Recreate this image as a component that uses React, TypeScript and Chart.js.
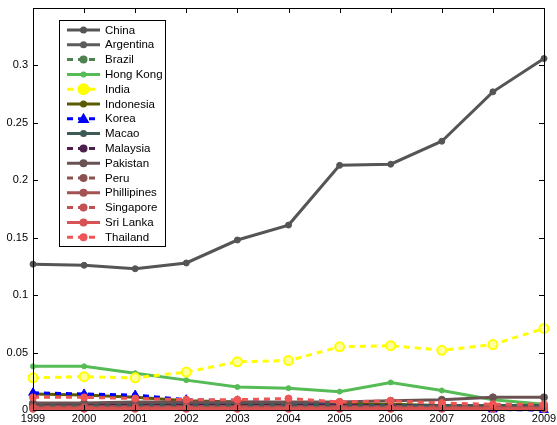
import React, { useEffect, useRef } from "react";
import { Chart, registerables } from "chart.js";

Chart.register(...registerables);

const years = [1999, 2000, 2001, 2002, 2003, 2004, 2005, 2006, 2007, 2008, 2009];
const yTicks = [0, 0.05, 0.1, 0.15, 0.2, 0.25, 0.3];

const china = [0.127, 0.126, 0.123, 0.128, 0.148, 0.161, 0.213, 0.214, 0.234, 0.277, 0.306];
const argentina = [0.004, 0.004, 0.004, 0.004, 0.004, 0.004, 0.004, 0.004, 0.004, 0.004, 0.004];
const brazil = [0.005, 0.005, 0.005, 0.005, 0.005, 0.005, 0.004, 0.004, 0.004, 0.004, 0.004];
const hongKong = [0.038, 0.038, 0.032, 0.026, 0.020, 0.019, 0.016, 0.024, 0.017, 0.009, 0.005];
const india = [0.028, 0.029, 0.028, 0.033, 0.042, 0.043, 0.055, 0.056, 0.052, 0.057, 0.071];
const indonesia = [0.014, 0.013, 0.011, 0.008, 0.007, 0.006, 0.005, 0.005, 0.004, 0.003, 0.003];
const korea = [0.015, 0.014, 0.013, 0.009, 0.008, 0.006, 0.004, 0.003, 0.002, 0.0005, 0.0];
const macao = [0.005, 0.005, 0.005, 0.005, 0.005, 0.005, 0.004, 0.004, 0.004, 0.004, 0.004];
const malaysia = [0.004, 0.004, 0.004, 0.004, 0.004, 0.004, 0.004, 0.004, 0.003, 0.003, 0.003];
const pakistan = [0.006, 0.006, 0.007, 0.007, 0.007, 0.007, 0.007, 0.008, 0.009, 0.011, 0.011];
const peru = [0.003, 0.003, 0.003, 0.003, 0.003, 0.003, 0.003, 0.003, 0.003, 0.003, 0.003];
const phillipines = [0.002, 0.002, 0.002, 0.002, 0.002, 0.002, 0.002, 0.002, 0.002, 0.002, 0.002];
const singapore = [0.002, 0.002, 0.002, 0.002, 0.002, 0.002, 0.002, 0.002, 0.002, 0.002, 0.002];
const sriLanka = [0.001, 0.001, 0.001, 0.001, 0.001, 0.001, 0.001, 0.001, 0.001, 0.001, 0.001];
const thailand = [0.011, 0.011, 0.010, 0.009, 0.009, 0.010, 0.007, 0.008, 0.006, 0.005, 0.005];

type S = { label: string; data: number[]; color: string; dash: boolean; style: string; r: number; fill?: string };

const series: S[] = [
  { label: "China", data: china, color: "#555555", dash: false, style: "circle", r: 3 },
  { label: "Argentina", data: argentina, color: "#5c5c5c", dash: false, style: "circle", r: 3 },
  { label: "Brazil", data: brazil, color: "#4f8050", dash: true, style: "circle", r: 3.5 },
  { label: "Hong Kong", data: hongKong, color: "#55bb55", dash: false, style: "circle", r: 2.5 },
  { label: "India", data: india, color: "#ffff00", dash: true, style: "circle", r: 4.5, fill: "#ffffa0" },
  { label: "Indonesia", data: indonesia, color: "#5a5a00", dash: false, style: "circle", r: 3 },
  { label: "Korea", data: korea, color: "#0000ff", dash: true, style: "triangle", r: 5 },
  { label: "Macao", data: macao, color: "#3b5a58", dash: false, style: "circle", r: 3 },
  { label: "Malaysia", data: malaysia, color: "#4d1f4d", dash: true, style: "circle", r: 3.5 },
  { label: "Pakistan", data: pakistan, color: "#6b5252", dash: false, style: "circle", r: 3.5 },
  { label: "Peru", data: peru, color: "#8c5252", dash: true, style: "circle", r: 3.5 },
  { label: "Phillipines", data: phillipines, color: "#a55252", dash: false, style: "circle", r: 3.5 },
  { label: "Singapore", data: singapore, color: "#c25252", dash: true, style: "circle", r: 3.5 },
  { label: "Sri Lanka", data: sriLanka, color: "#d95252", dash: false, style: "circle", r: 3.5 },
  { label: "Thailand", data: thailand, color: "#f05555", dash: true, style: "circle", r: 3.5 },
];

const DASH = [6, 5];
const FONT = "'Liberation Sans', Arial, sans-serif";

const boxPlugin = {
  id: "matlabBox",
  afterDatasetsDraw(chart: any) {
    const { ctx, chartArea: a, scales } = chart;
    ctx.save();
    ctx.strokeStyle = "#000";
    ctx.lineWidth = 1;
    ctx.setLineDash([]);
    ctx.strokeRect(Math.round(a.left) + 0.5, Math.round(a.top) + 0.5, Math.round(a.right - a.left), Math.round(a.bottom - a.top));
    const L = 5;
    ctx.beginPath();
    for (const y of years) {
      const px = Math.round(scales.x.getPixelForValue(y)) + 0.5;
      ctx.moveTo(px, a.bottom);
      ctx.lineTo(px, a.bottom - L);
      ctx.moveTo(px, a.top);
      ctx.lineTo(px, a.top + L);
    }
    for (const v of yTicks) {
      const py = Math.round(scales.y.getPixelForValue(v)) + 0.5;
      ctx.moveTo(a.left, py);
      ctx.lineTo(a.left + L, py);
      ctx.moveTo(a.right, py);
      ctx.lineTo(a.right - L, py);
    }
    ctx.stroke();

    // legend
    const lx = 59, ly = 20, lw = 106, lh = 226;
    ctx.fillStyle = "#fff";
    ctx.fillRect(lx, ly, lw, lh);
    ctx.strokeStyle = "#000";
    ctx.strokeRect(lx + 0.5, ly + 0.5, lw, lh);
    ctx.font = "11.5px " + FONT;
    ctx.textBaseline = "middle";
    const step = 14.8;
    series.forEach((s, i) => {
      const cy = ly + 10 + i * step;
      ctx.strokeStyle = s.color;
      ctx.lineWidth = 3;
      ctx.setLineDash(s.dash ? DASH : []);
      ctx.beginPath();
      ctx.moveTo(67, cy);
      ctx.lineTo(100, cy);
      ctx.stroke();
      ctx.setLineDash([]);
      ctx.fillStyle = s.color;
      ctx.beginPath();
      if (s.style === "triangle") {
        const r = s.r + 1;
        ctx.moveTo(83.5, cy - r);
        ctx.lineTo(83.5 + r, cy + r * 0.7);
        ctx.lineTo(83.5 - r, cy + r * 0.7);
        ctx.closePath();
      } else {
        ctx.arc(83.5, cy, s.r + (s.fill ? 1.5 : 0.5), 0, Math.PI * 2);
      }
      ctx.fill();
      ctx.fillStyle = "#000";
      ctx.fillText(s.label, 105, cy + 0.5);
    });
    ctx.restore();
  },
};

export default function App() {
  const ref = useRef<HTMLCanvasElement>(null);
  useEffect(() => {
    document.body.style.margin = "0";
    const n = series.length;
    const chart = new Chart(ref.current!, {
      type: "line",
      data: {
        datasets: series.map((s, i) => ({
          label: s.label,
          data: s.data.map((v, j) => ({ x: years[j], y: v })),
          borderColor: s.color,
          backgroundColor: s.fill || s.color,
          borderWidth: 3,
          borderDash: s.dash ? DASH : [],
          pointStyle: s.style as any,
          pointRadius: s.r,
          pointBorderColor: s.color,
          pointBackgroundColor: s.fill || s.color,
          pointBorderWidth: s.fill ? 2 : 1,
          tension: 0,
          order: n - i,
          clip: false as any,
        })),
      },
      options: {
        animation: false,
        responsive: false,
        maintainAspectRatio: false,
        layout: { padding: { top: 8, right: 13, left: 0, bottom: 0 } },
        plugins: { legend: { display: false }, tooltip: { enabled: false } },
        scales: {
          x: {
            type: "linear",
            min: 1999,
            max: 2009,
            afterFit: (s: any) => { s.height = 15; s.paddingLeft = 0; s.paddingRight = 0; },
            afterBuildTicks: (s: any) => { s.ticks = years.map((v) => ({ value: v })); },
            grid: { display: false, drawTicks: false, tickLength: 0 },
            border: { display: false },
            ticks: {
              color: "#000",
              font: { family: FONT, size: 11 },
              padding: 2,
              maxRotation: 0,
              autoSkip: false,
              callback: (v: any) => String(v),
            },
          },
          y: {
            type: "linear",
            min: 0,
            max: 0.35,
            afterFit: (s: any) => { s.width = 33; s.paddingTop = 0; s.paddingBottom = 0; },
            afterBuildTicks: (s: any) => { s.ticks = yTicks.map((v) => ({ value: v })); },
            grid: { display: false, drawTicks: false, tickLength: 0 },
            border: { display: false },
            ticks: {
              color: "#000",
              font: { family: FONT, size: 11 },
              padding: 5,
              callback: (v: any) => String(Math.round(v * 100) / 100),
            },
          },
        },
      },
      plugins: [boxPlugin],
    });
    return () => chart.destroy();
  }, []);
  return (
    <div style={{ position: "absolute", left: 0, top: 0, width: 557, height: 425, background: "#fff" }}>
      <canvas ref={ref} width={557} height={425} style={{ width: 557, height: 425 }} />
    </div>
  );
}
